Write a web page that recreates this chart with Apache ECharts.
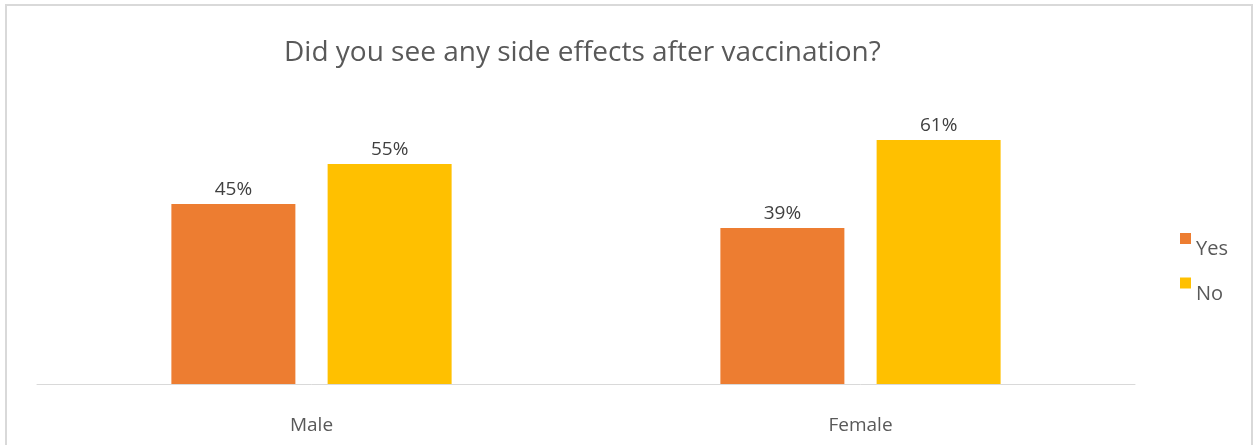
<!DOCTYPE html>
<html>
<head>
<meta charset="utf-8">
<script src="https://cdn.jsdelivr.net/npm/echarts@6/dist/echarts.min.js"></script>
<style>
  html, body { margin: 0; padding: 0; background: #fff; }
  #main { width: 1255px; height: 445px; }
</style>
</head>
<body>
<div id="main"></div>
<script>
var categories = ['Male', 'Female'];
var yesValues = [45, 39];
var noValues = [55, 61];
var seriesNames = ['Yes', 'No'];

var myChart = echarts.init(document.getElementById('main'));
var font = 'Open Sans';

var option = {
    backgroundColor: '#fff',
    title: {
        text: 'Did you see any side effects after vaccination?',
        left: 279,
        top: 34,
        textStyle: {
            fontFamily: font,
            fontSize: 28,
            fontWeight: 'normal',
            color: '#595959'
        }
    },
    legend: {
        orient: 'vertical',
        left: 1175,
        top: 228,
        itemWidth: 11,
        itemHeight: 11,
        itemGap: 18,
        icon: 'rect',
        data: seriesNames,
        formatter: '{t|{name}}',
        textStyle: {
            fontFamily: font,
            fontSize: 20,
            color: '#595959',
            rich: {
                t: {
                    fontFamily: font,
                    fontSize: 20,
                    color: '#595959',
                    padding: [22, 0, 0, 0]
                }
            }
        }
    },
    grid: {
        left: 37,
        right: 120,
        top: 104,
        bottom: 61
    },
    xAxis: {
        type: 'category',
        data: categories,
        axisTick: { show: false },
        axisLine: { lineStyle: { color: '#d9d9d9', width: 1 } },
        axisLabel: {
            margin: 32,
            fontFamily: font,
            fontSize: 19,
            color: '#595959'
        }
    },
    yAxis: {
        type: 'value',
        min: 0,
        max: 70,
        show: false,
        splitLine: { show: false }
    },
    graphic: [{
        type: 'rect',
        shape: { x: 6, y: 5, width: 1246, height: 445 },
        style: { fill: 'none', stroke: '#d9d9d9', lineWidth: 2 }
    }],
    series: [
        {
            name: seriesNames[0],
            type: 'bar',
            data: yesValues,
            barWidth: 124,
            barGap: '26%',
            itemStyle: { color: '#ed7d31' },
            label: {
                show: true,
                position: 'top',
                distance: 5,
                formatter: '{c}%',
                fontFamily: font,
                fontSize: 19,
                color: '#404040'
            }
        },
        {
            name: seriesNames[1],
            type: 'bar',
            data: noValues,
            barWidth: 124,
            itemStyle: { color: '#ffc000' },
            label: {
                show: true,
                position: 'top',
                distance: 5,
                formatter: '{c}%',
                fontFamily: font,
                fontSize: 19,
                color: '#404040'
            }
        }
    ]
};
myChart.setOption(option);
</script>
</body>
</html>
